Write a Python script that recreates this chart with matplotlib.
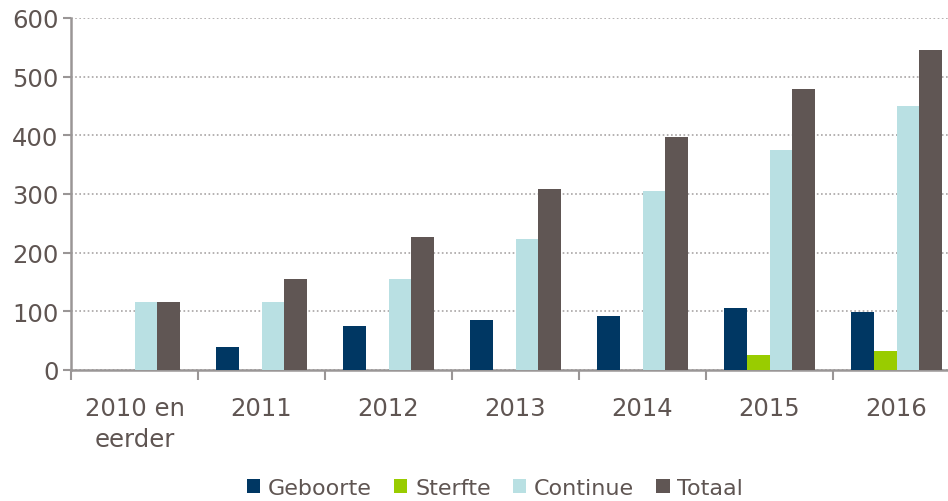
import numpy as np
import matplotlib.pyplot as plt

categories = ["2010 en\neerder", "2011", "2012", "2013", "2014", "2015", "2016"]
geboorte = [0, 39, 75, 85, 92, 106, 99]
sterfte = [0, 0, 0, 0, 0, 25, 32]
continue_ = [116, 116, 155, 223, 305, 375, 450]
totaal = [116, 155, 227, 308, 397, 479, 545]

series = ["Geboorte", "Sterfte", "Continue", "Totaal"]
colors = ["#003763", "#99cc00", "#b9e0e3", "#605654"]
text_col = "#5f5552"
axis_col = "#9a9696"

plt.rcParams['font.family'] = ['Verdana', 'DejaVu Sans']

fig = plt.figure(figsize=(9.48, 5.02), dpi=100)
ax = fig.add_axes([71 / 948, 1 - 371 / 502, 889 / 948, 352 / 502])

x = np.arange(len(categories))
w = 0.18
for i, (vals, name, col) in enumerate(zip([geboorte, sterfte, continue_, totaal], series, colors)):
    ax.bar(x + (i - 1.5) * w, vals, width=w, color=col, label=name,
           linewidth=0, zorder=3)

ax.set_xlim(-0.5, len(categories) - 0.5)
ax.set_ylim(0, 600)
ax.set_yticks(range(0, 601, 100))
ax.yaxis.grid(True, linestyle=(0, (1, 1.5)), color='#a8a4a4', linewidth=1.2, zorder=0)

ax.set_xticks(x)
ax.set_xticklabels(categories, linespacing=1.35)
ax.set_xticks(np.arange(-0.5, len(categories), 1), minor=True)
ax.tick_params(axis='x', which='major', length=0, pad=19, labelsize=17.5, labelcolor=text_col)
ax.tick_params(axis='x', which='minor', length=7, width=1.5, color=axis_col, direction='out')
ax.tick_params(axis='y', length=6, width=1.5, color=axis_col, labelsize=17.5, labelcolor=text_col, pad=3)

for s in ['top', 'right']:
    ax.spines[s].set_visible(False)
for s in ['left', 'bottom']:
    ax.spines[s].set_color(axis_col)
    ax.spines[s].set_linewidth(1.8)

fig.legend(loc='lower center', bbox_to_anchor=(495 / 948, -0.034), ncol=4, frameon=False,
           fontsize=16, labelcolor=text_col, handlelength=0.6, handleheight=0.6,
           handletextpad=0.35, columnspacing=1.0)

fig.savefig("out.png", dpi=100)
